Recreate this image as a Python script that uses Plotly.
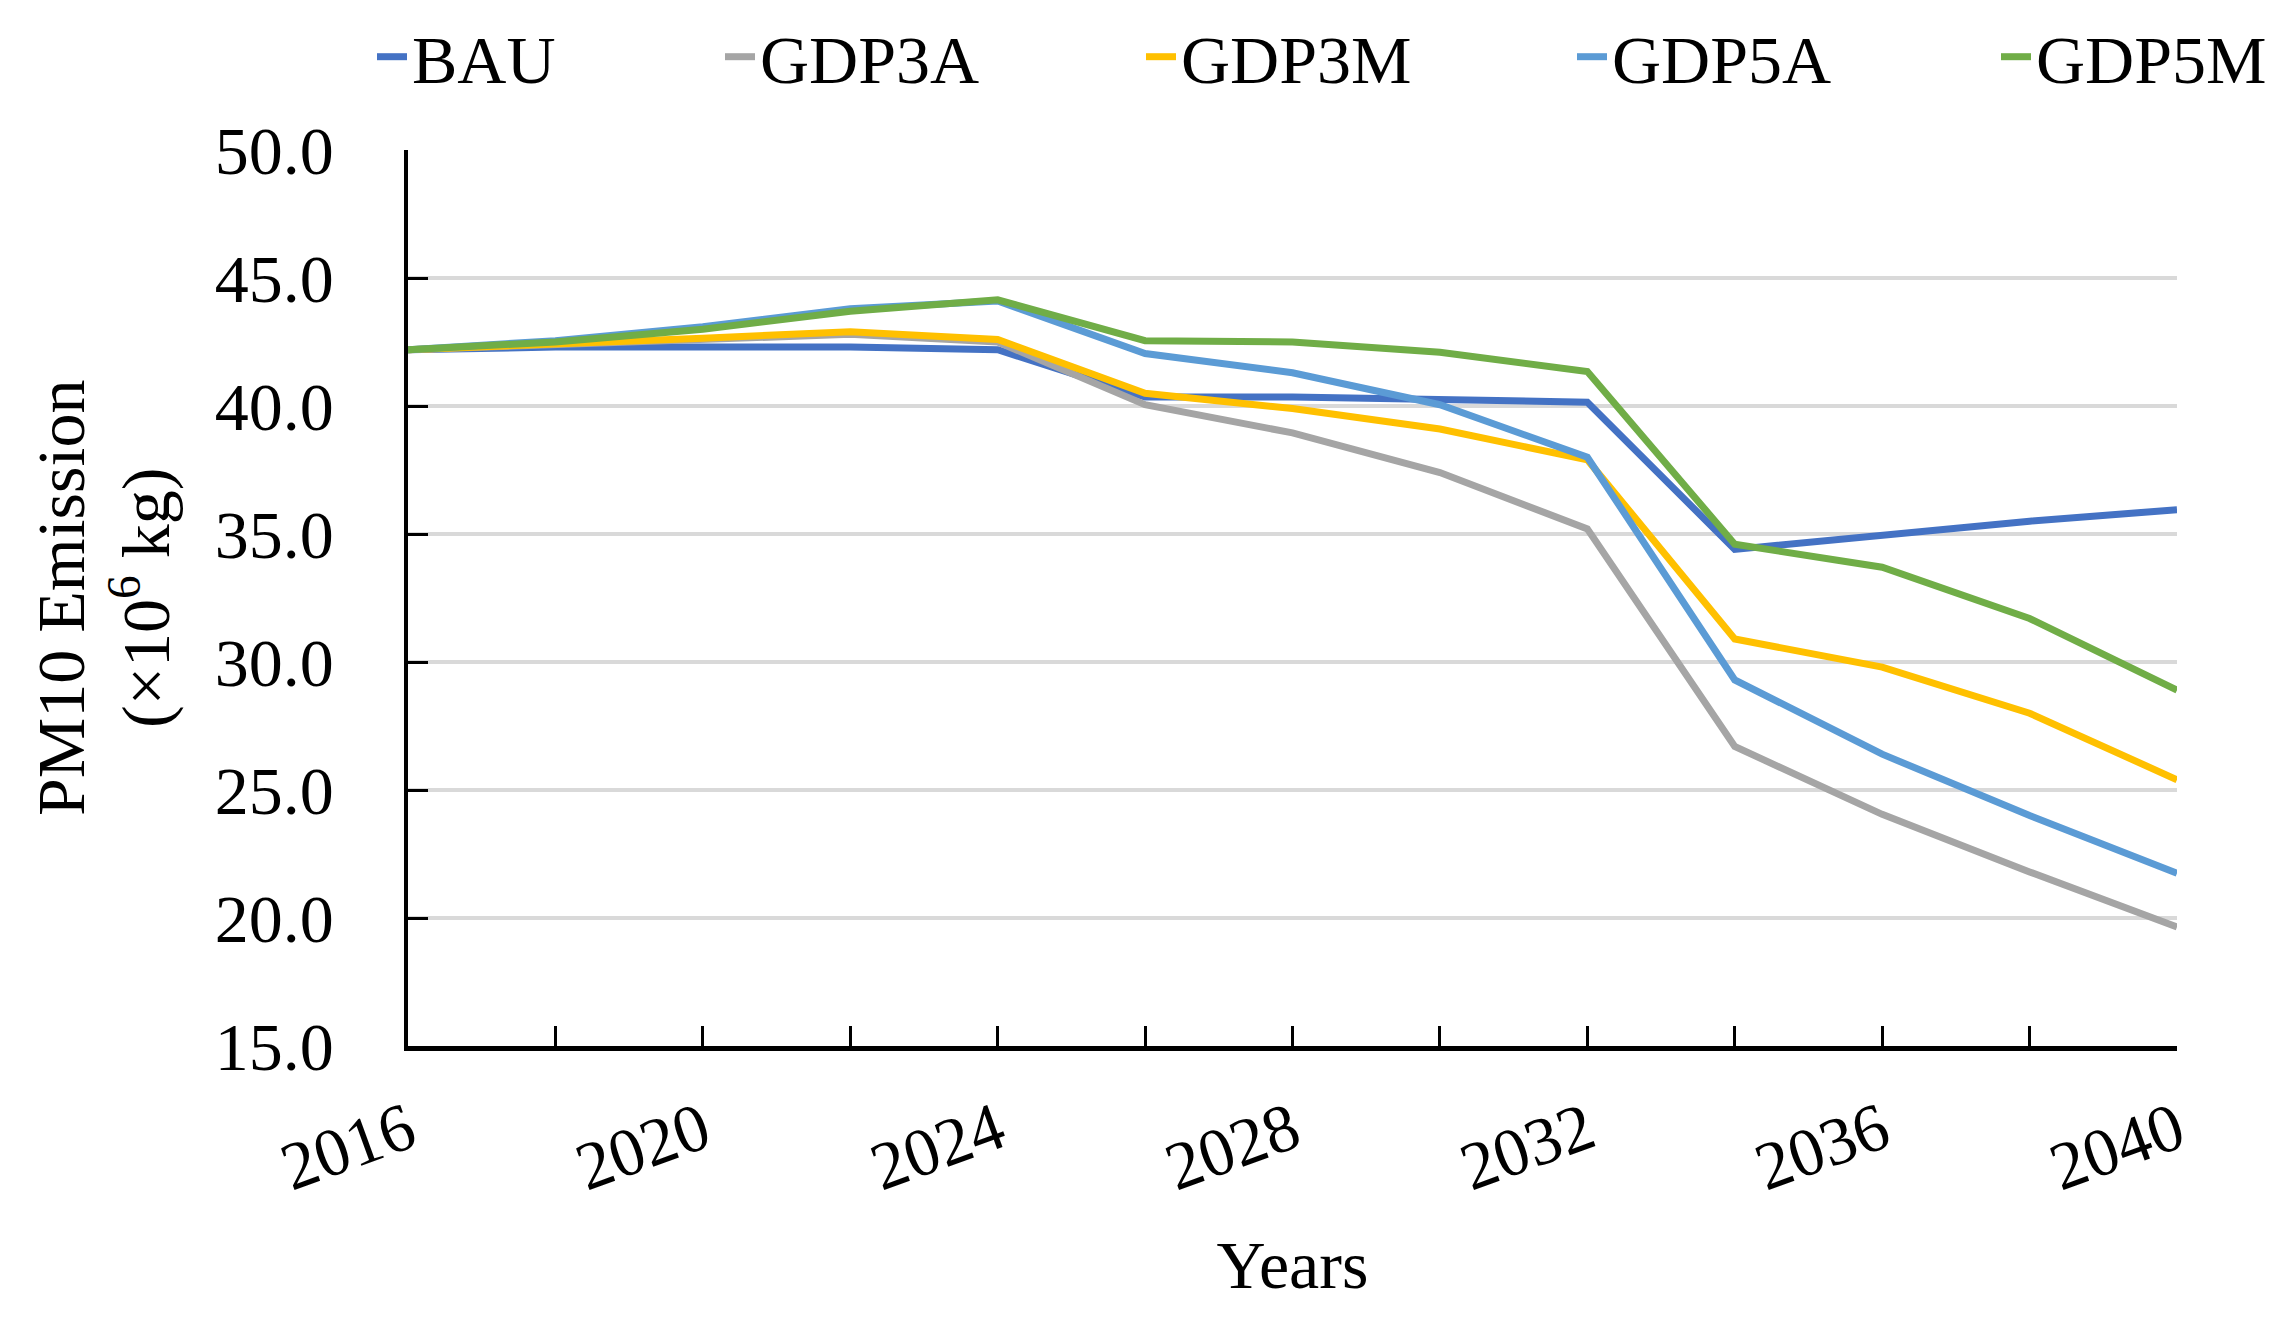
import plotly.graph_objects as go

years = [2016, 2018, 2020, 2022, 2024, 2026, 2028, 2030, 2032, 2034, 2036, 2038, 2040]
series_names = ["BAU", "GDP3A", "GDP3M", "GDP5A", "GDP5M"]
bau   = [42.2, 42.3, 42.3, 42.3, 42.2, 40.35, 40.35, 40.25, 40.15, 34.4, 34.95, 35.5, 35.95]
gdp3a = [42.2, 42.4, 42.6, 42.8, 42.5, 40.05, 38.95, 37.4, 35.2, 26.7, 24.05, 21.8, 19.65]
gdp3m = [42.2, 42.4, 42.65, 42.9, 42.6, 40.5, 39.9, 39.1, 37.9, 30.9, 29.8, 28.0, 25.4]
gdp5a = [42.2, 42.55, 43.1, 43.8, 44.1, 42.05, 41.3, 40.05, 38.0, 29.3, 26.4, 24.0, 21.75]
gdp5m = [42.2, 42.5, 43.0, 43.7, 44.15, 42.55, 42.5, 42.1, 41.35, 34.6, 33.7, 31.7, 28.9]
series_values = [bau, gdp3a, gdp3m, gdp5a, gdp5m]
colors = ["#4472C4", "#A5A5A5", "#FFC000", "#5B9BD5", "#70AD47"]
x_tickvals = [2016, 2020, 2024, 2028, 2032, 2036, 2040]
y_tickvals = [15, 20, 25, 30, 35, 40, 45, 50]
y_title_lines = ["PM10 Emission", "(×10<sup>6</sup> kg)"]
x_title = "Years"

FONT = "Liberation Serif, Times New Roman, serif"
FS = 68
W, H = 2284, 1317
L, R, T, B = 408, 107, 150, 271
legend_text_px = [412, 760, 1181, 1612, 2036]  # where each legend label starts

fig = go.Figure()
legend_ids = ["legend", "legend2", "legend3", "legend4", "legend5"]
for name, vals, c, lid in zip(series_names, series_values, colors, legend_ids):
    fig.add_trace(go.Scatter(x=years, y=vals, mode="lines", name=name,
                             line=dict(color=c, width=7), legend=lid))

layout_legends = {}
for lid, px in zip(legend_ids, legend_text_px):
    layout_legends[lid] = dict(orientation="h", xref="container", yref="container",
                               x=(px - 40) / W, xanchor="left",
                               y=1 - 57 / H, yanchor="middle",
                               font=dict(family=FONT, size=FS, color="black"),
                               bgcolor="rgba(0,0,0,0)", borderwidth=0)

fig.update_layout(
    width=W, height=H,
    margin=dict(l=L, r=R, t=T, b=B, autoexpand=False),
    paper_bgcolor="white", plot_bgcolor="white",
    font=dict(family=FONT, size=FS, color="black"),
    showlegend=True,
    **layout_legends,
)
fig.update_xaxes(
    range=[2016, 2040], tickvals=x_tickvals, ticktext=[str(v) for v in x_tickvals],
    tickangle=-20, ticks="inside", ticklen=20, tickwidth=2.5, tickcolor="black",
    minor=dict(dtick=2, tick0=2016, ticks="inside", ticklen=20, tickwidth=2.5,
               tickcolor="black", showgrid=False),
    showline=True, linecolor="black", linewidth=5, showgrid=False, zeroline=False,
    ticklabelstandoff=14,
    title=dict(text=x_title, standoff=38, font=dict(family=FONT, size=FS)),
    tickfont=dict(family=FONT, size=FS),
)
fig.update_yaxes(
    range=[15, 50], tickvals=y_tickvals, tickformat=".1f",
    ticks="inside", ticklen=20, tickwidth=3, tickcolor="black",
    showline=True, linecolor="black", linewidth=3.5,
    showgrid=True, gridcolor="#D9D9D9", gridwidth=4, zeroline=False,
    ticklabelstandoff=57,
    tickfont=dict(family=FONT, size=FS),
)

pw = W - L - R
for txt, cx in zip(y_title_lines, [61, 141]):
    fig.add_annotation(text=txt, textangle=-90, xref="paper", yref="paper",
                       x=(cx - L) / pw, y=0.5, xanchor="center", yanchor="middle",
                       showarrow=False, font=dict(family=FONT, size=FS, color="black"))

fig.write_html("out.html", config={"displayModeBar": False},
               post_script="document.body.style.margin='0';")
